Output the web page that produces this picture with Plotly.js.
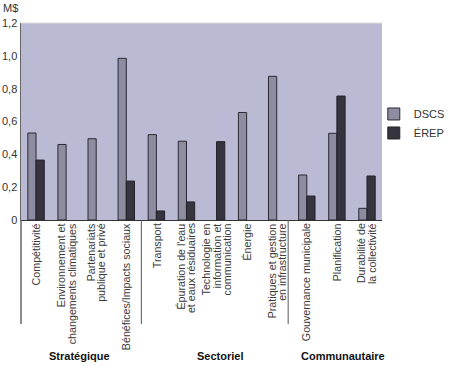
<!DOCTYPE html>
<html>
<head>
<meta charset="utf-8">
<script src="https://cdn.plot.ly/plotly-3.0.1.min.js"></script>
<style>html,body{margin:0;padding:0;background:#fff;}#chart{width:450px;height:378px;}</style>
</head>
<body>
<div id="chart"></div>
<script>
var categories = [
  "Compétitivité",
  "Environnement et\nchangements climatiques",
  "Partenariats\npublique et privé",
  "Bénéfices/Impacts sociaux",
  "Transport",
  "Épuration de l'eau\net eaux résiduaires",
  "Technologie en\ninformation et\ncommunication",
  "Énergie",
  "Pratiques et gestion\nen infrastructure",
  "Gouvernance municipale",
  "Planification",
  "Durabilité de\nla collectivité"
];
var dscs = [0.53, 0.46, 0.495, 0.985, 0.52, 0.48, null, 0.655, 0.875, 0.274, 0.528, 0.071];
var erep = [0.365, null, null, 0.237, 0.055, 0.11, 0.477, null, null, 0.146, 0.755, 0.268];
var groups = ["Stratégique", "Sectoriel", "Communautaire"];
var groupCenters = [1.45, 6.1, 10.2];
var groupSeparators = [3.5, 8.38];
var yTickVals = [0, 0.2, 0.4, 0.6, 0.8, 1.0, 1.2];
var yTickText = ["0", "0,2", "0,4", "0,6", "0,8", "1,0", "1,2"];

var xIdx = categories.map(function(c, i){ return i; });

var traces = [
  {type:'bar', name:'DSCS', x:xIdx, y:dscs,
   marker:{color:'#8d8ca0', line:{color:'#2b2a33', width:1}}},
  {type:'bar', name:'ÉREP', x:xIdx, y:erep,
   marker:{color:'#36353f', line:{color:'#222128', width:1}}}
];

var font = "'Liberation Sans', Arial, Helvetica, sans-serif";
var labelSize = 10.7;
var lineStep = 10.5;
var shapes = [];
groupSeparators.forEach(function(s){
  shapes.push({type:'line', xref:'x', yref:'paper', x0:s, x1:s, y0:0, y1:-0.528,
    line:{color:'#555', width:1}});
});
shapes.push({type:'line', xref:'x domain', yref:'paper', x0:0, x1:0, y0:0, y1:-0.528,
  line:{color:'#666', width:1.5}});
shapes.push({type:'line', xref:'x domain', yref:'paper', x0:0, x1:1, y0:1, y1:1,
  line:{color:'#dcdcdc', width:1}});

var annotations = [];
categories.forEach(function(c, i){
  var lines = c.split('\n');
  var n = lines.length;
  lines.forEach(function(t, k){
    annotations.push({text:t, x:i, xref:'x', y:-0.012, yref:'paper',
      xanchor:'center', yanchor:'top', textangle:-90, showarrow:false,
      xshift:(k - (n-1)/2) * lineStep, borderpad:0,
      font:{family:font, size:labelSize, color:'#3a3a3a'}});
  });
});
groups.forEach(function(g, i){
  annotations.push({text:'<b>'+g+'</b>', x:groupCenters[i], xref:'x', y:-0.69, yref:'paper',
    showarrow:false, font:{family:font, size:11, color:'#111'}, yanchor:'middle'});
});
annotations.push({text:'M$', xref:'x domain', yref:'paper', x:-0.055, y:1.075,
  xanchor:'left', yanchor:'middle', showarrow:false, font:{family:font, size:11, color:'#333'}});

var layout = {
  width:450, height:378,
  margin:{l:21, r:0, t:23, b:158, pad:0},
  paper_bgcolor:'#ffffff',
  plot_bgcolor:'rgba(0,0,0,0)',
  barmode:'group',
  bargap:0.454,
  bargroupgap:0,
  showlegend:true,
  legend:{x:0.836, y:0.49, xanchor:'left', yanchor:'middle',
    font:{family:font, size:11, color:'#333'}, bgcolor:'rgba(0,0,0,0)',
    itemwidth:30, tracegroupgap:0},
  font:{family:font, color:'#222'},
  xaxis:{
    domain:[0, 0.8555],
    tickvals:xIdx, ticktext:categories.map(function(){return '';}),
    range:[-0.5, 11.5], showgrid:false, zeroline:false,
    showline:true, linecolor:'#333', linewidth:1, ticks:'', automargin:false
  },
  yaxis:{
    range:[0, 1.2], tickvals:yTickVals, ticktext:yTickText,
    showgrid:false, zeroline:false, showline:true, linecolor:'#666', linewidth:1.5,
    ticks:'', tickfont:{family:font, size:11, color:'#333'}, automargin:false
  },
  shapes:[{type:'rect', xref:'x domain', yref:'y domain', x0:0, x1:1, y0:0, y1:1,
    fillcolor:'#bbbad4', line:{width:0}, layer:'below'}].concat(shapes),
  annotations:annotations
};

Plotly.newPlot('chart', traces, layout, {displayModeBar:false, staticPlot:true});
</script>
</body>
</html>
